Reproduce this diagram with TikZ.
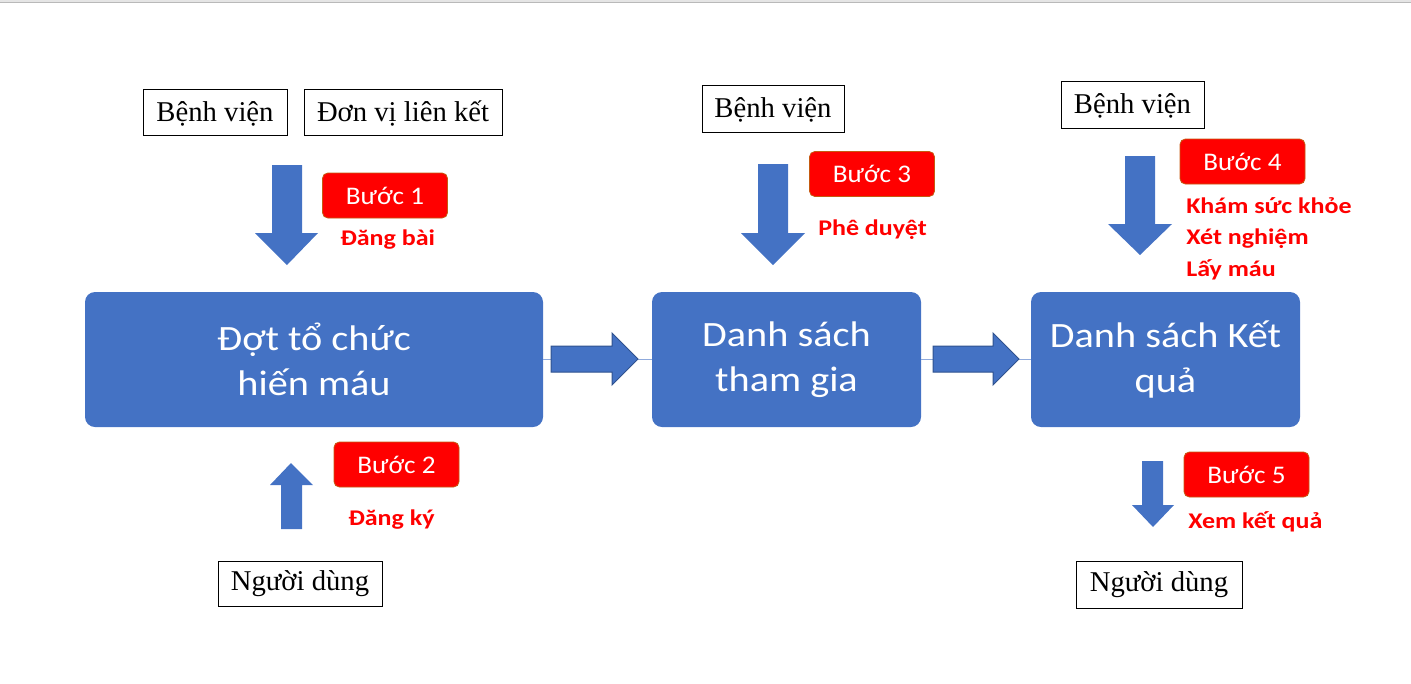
\documentclass[tikz,border=0pt]{standalone}
\usepackage{fontspec}
\setmainfont{Liberation Serif}
\newfontfamily\boxfont[FakeStretch=1.13]{Carlito}
\newfontfamily\stepfont[FakeStretch=1.07]{Carlito}
\newfontfamily\notefont[FakeStretch=1.16]{Carlito}
\definecolor{boxblue}{HTML}{4472C4}
\definecolor{arrowline}{HTML}{2F528F}
\definecolor{stepline}{HTML}{C55A11}
\definecolor{linkline}{HTML}{8FAADC}

\begin{document}
\begin{tikzpicture}[x=0.75pt,y=-0.75pt,
  mainbox/.style={rounded corners=7.5pt, fill=boxblue, text=white, align=center, minimum height=101.25pt, font=\boxfont\fontsize{26.7}{34}\selectfont},
  stepbox/.style={rounded corners=4pt, fill=red, draw=stepline, line width=0.6pt, text=white, minimum width=93.75pt, minimum height=33.75pt, font=\stepfont\fontsize{19}{23}\selectfont},
  notetext/.style={text=red, anchor=base west, align=left, inner sep=0pt, font=\notefont\bfseries\fontsize{16.8}{23.6}\selectfont},
  actor/.style={draw=black, line width=0.75pt, minimum height=34pt, font=\fontsize{21.5}{26}\selectfont},
  capmid/.style={text height=14.2pt, text depth=0pt},
  blockarrow/.style={fill=boxblue},
  flowarrow/.style={fill=boxblue, draw=arrowline, line width=0.75pt}]

\useasboundingbox (0,0) rectangle (1411,683);
\fill[gray!20] (0,0) rectangle (1411,2);
\draw[gray!55] (0,2.5) -- (1411,2.5);

% main flow
\node[mainbox, minimum width=343.5pt] (dot) at (314,359.5) {Đợt tổ chức\\hiến máu};
\node[mainbox, minimum width=201.75pt] (thamgia) at (786.5,359.5) {Danh sách\\tham gia};
\node[mainbox, minimum width=201.75pt] (ketqua) at (1165.5,359.5) {Danh sách Kết\\quả};

\draw[linkline, line width=0.75pt] (dot) -- (thamgia);
\draw[linkline, line width=0.75pt] (thamgia) -- (ketqua);

\filldraw[flowarrow] (551,346) -- (612,346) -- (612,333) -- (638,359) -- (612,385) -- (612,372) -- (551,372) -- cycle;
\filldraw[flowarrow] (933,346) -- (993,346) -- (993,333) -- (1019,359) -- (993,385) -- (993,372) -- (933,372) -- cycle;

% actors
\node[actor, capmid, minimum width=108pt] (benhvien1) at (215,112.5) {Bệnh viện};
\node[actor, capmid, minimum width=148.5pt] (donvi) at (403,112.5) {Đơn vị liên kết};
\node[actor, capmid, minimum width=106.5pt, minimum height=35.25pt] (benhvien2) at (773,108.5) {Bệnh viện};
\node[actor, capmid, minimum width=107.25pt, minimum height=35.25pt] (benhvien3) at (1132.5,104.5) {Bệnh viện};
\node[actor, minimum width=123pt] (nguoidung1) at (300,584) {Người dùng};
\node[actor, minimum width=124.5pt, minimum height=35.25pt] (nguoidung2) at (1159,584.5) {Người dùng};

% steps
\node[stepbox] (buoc1) at (385,195.5) {Bước 1};
\node[stepbox] (buoc2) at (396.5,464.5) {Bước 2};
\node[stepbox] (buoc3) at (872,174) {Bước 3};
\node[stepbox] (buoc4) at (1242.5,161.5) {Bước 4};
\node[stepbox] (buoc5) at (1246.5,474.5) {Bước 5};

\node[notetext] (dangbai) at (340,245) {Đăng bài};
\node[notetext] (dangky) at (348,525) {Đăng ký};
\node[notetext] (pheduyet) at (818,235) {Phê duyệt};
\node[notetext] (kham) at (1186,276) {Khám sức khỏe\\Xét nghiệm\\Lấy máu};
\node[notetext] (xemketqua) at (1188,528) {Xem kết quả};

% step arrows
\fill[blockarrow] (272,165) -- (302,165) -- (302,233) -- (318,233) -- (287,265) -- (255,233) -- (272,233) -- cycle;
\fill[blockarrow] (281,529) -- (302,529) -- (302,485) -- (313,485) -- (291,463) -- (270,485) -- (281,485) -- cycle;
\fill[blockarrow] (758,164) -- (788,164) -- (788,233) -- (805,233) -- (773,265) -- (741,233) -- (758,233) -- cycle;
\fill[blockarrow] (1125,156) -- (1155,156) -- (1155,224) -- (1172,224) -- (1140,255) -- (1108,224) -- (1125,224) -- cycle;
\fill[blockarrow] (1142,461) -- (1163,461) -- (1163,505) -- (1174,505) -- (1153,527) -- (1132,505) -- (1142,505) -- cycle;
\end{tikzpicture}
\end{document}
